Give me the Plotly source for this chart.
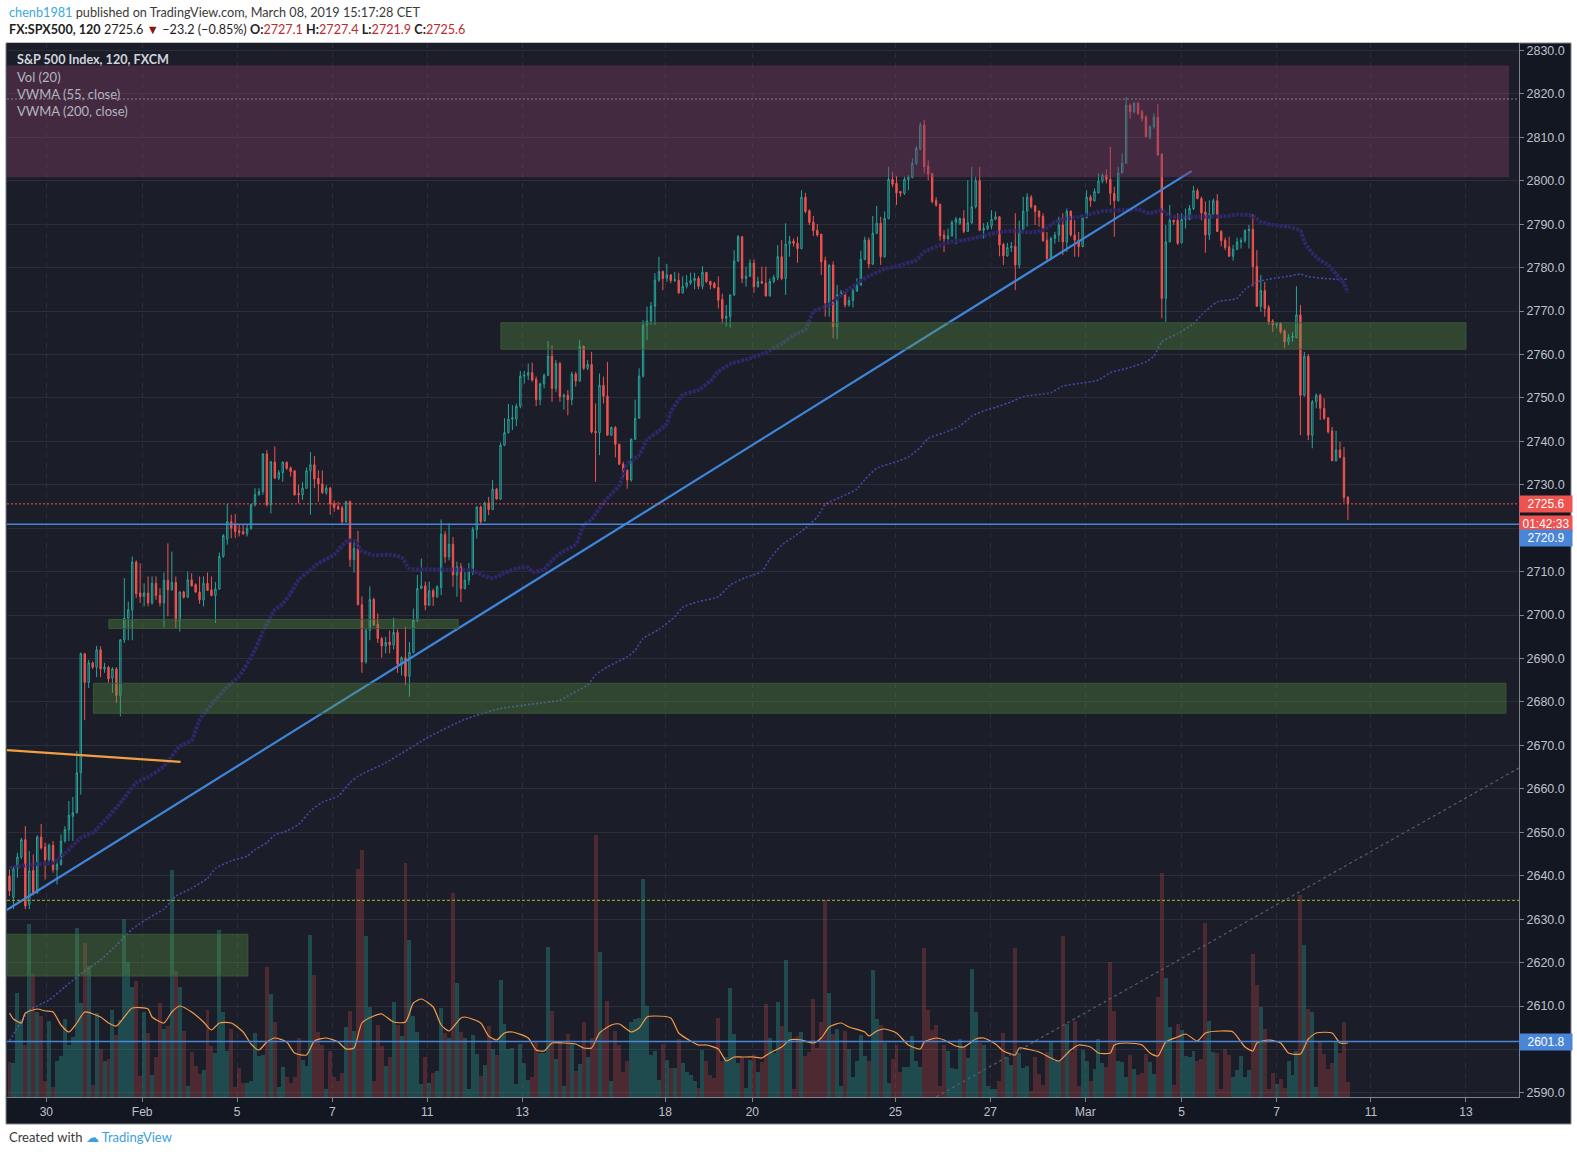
import plotly.graph_objects as go

# FX:SPX500 (FXCM), 2h bars, Jan 29 - Mar 8 2019, values
opens = [
    2639.9, 2635.0, 2641.6, 2644.3, 2648.3, 2633.4, 2641.2, 2636.1, 2648.9, 2646.6,
    2643.7, 2647.0, 2641.4, 2642.6, 2648.0, 2650.6, 2653.7, 2654.5, 2663.7, 2691.1,
    2684.5, 2689.0, 2688.0, 2692.0, 2687.6, 2688.0, 2685.5, 2687.6, 2681.5, 2694.3,
    2699.3, 2701.2, 2712.2, 2705.1, 2704.3, 2705.1, 2702.8, 2707.3, 2704.5, 2702.8,
    2708.0, 2705.8, 2707.5, 2698.8, 2705.3, 2704.1, 2708.1, 2707.0, 2705.3, 2703.5,
    2707.3, 2705.8, 2704.5, 2706.0, 2713.5, 2717.5, 2721.5, 2720.9, 2719.4, 2719.2,
    2718.7, 2720.0, 2725.4, 2727.7, 2728.4, 2737.1, 2725.4, 2735.2, 2731.5, 2732.8,
    2735.2, 2733.9, 2733.2, 2728.0, 2727.7, 2729.2, 2733.2, 2734.6, 2731.5, 2730.2,
    2728.2, 2729.2, 2725.6, 2725.0, 2724.7, 2721.5, 2726.1, 2712.8, 2715.3, 2702.4,
    2689.2, 2696.5, 2703.6, 2697.9, 2694.6, 2692.9, 2693.8, 2693.1, 2696.0, 2688.7,
    2690.2, 2685.9, 2691.4, 2698.8, 2706.1, 2706.7, 2702.3, 2705.6, 2704.2, 2706.3,
    2718.6, 2713.4, 2716.3, 2709.2, 2711.1, 2706.1, 2708.0, 2710.0, 2719.7, 2724.9,
    2721.7, 2725.8, 2724.3, 2729.0, 2726.7, 2739.1, 2742.0, 2745.1, 2745.1, 2748.1,
    2755.0, 2755.2, 2755.8, 2754.3, 2749.6, 2753.2, 2755.2, 2759.6, 2752.2, 2757.9,
    2750.3, 2750.6, 2749.6, 2755.5, 2753.9, 2761.8, 2756.8, 2757.7, 2742.3, 2742.0,
    2752.9, 2750.4, 2741.4, 2743.2, 2739.3, 2734.7, 2733.4, 2731.1, 2740.5, 2745.3,
    2755.0, 2766.8, 2767.7, 2771.1, 2777.1, 2779.1, 2777.5, 2778.3, 2777.0, 2777.1,
    2774.2, 2775.7, 2776.5, 2777.0, 2777.5, 2775.7, 2778.9, 2776.8, 2776.4, 2775.4,
    2772.7, 2768.3, 2768.7, 2773.7, 2781.5, 2787.1, 2777.5, 2778.0, 2781.0, 2775.6,
    2776.8, 2776.4, 2773.5, 2776.8, 2777.7, 2782.5, 2777.5, 2785.4, 2786.1, 2785.6,
    2784.4, 2796.2, 2793.1, 2790.5, 2788.6, 2787.7, 2781.6, 2771.9, 2780.6, 2766.4,
    2773.7, 2774.2, 2771.4, 2772.4, 2774.6, 2776.0, 2781.9, 2786.3, 2780.8, 2787.9,
    2790.2, 2782.5, 2791.3, 2800.3, 2799.4, 2797.5, 2797.1, 2800.3, 2800.8, 2804.0,
    2807.4, 2812.8, 2803.4, 2801.7, 2795.4, 2794.6, 2787.5, 2786.7, 2787.3, 2790.4,
    2790.2, 2791.3, 2788.3, 2790.3, 2794.0, 2800.0, 2788.6, 2789.0, 2789.6, 2791.1,
    2791.7, 2785.3, 2782.7, 2784.6, 2784.9, 2780.6, 2788.8, 2793.0, 2796.2, 2794.2,
    2793.0, 2791.8, 2786.3, 2782.1, 2786.7, 2787.5, 2789.8, 2785.9, 2793.0, 2787.5,
    2786.3, 2784.8, 2791.5, 2796.2, 2795.4, 2797.2, 2799.9, 2801.3, 2800.3, 2797.1,
    2795.4, 2801.8, 2804.0, 2817.4, 2815.9, 2817.8, 2815.9, 2814.6, 2810.1, 2812.4,
    2814.6, 2806.1, 2772.9, 2785.9, 2790.9, 2790.9, 2785.7, 2791.1, 2791.1, 2793.6,
    2797.7, 2795.9, 2792.8, 2787.5, 2792.3, 2795.4, 2788.3, 2786.3, 2784.8, 2782.6,
    2784.2, 2785.9, 2786.2, 2788.5, 2788.8, 2780.3, 2771.1, 2774.7, 2770.8, 2767.7,
    2766.8, 2767.1, 2765.4, 2762.9, 2763.9, 2763.9, 2769.1, 2750.6, 2759.6, 2741.4,
    2749.1, 2750.6, 2747.6, 2745.4, 2742.4, 2735.5, 2738.0, 2736.3, 2727.1,
]
highs = [
    2641.4, 2642.0, 2645.3, 2648.7, 2651.4, 2645.7, 2644.9, 2649.3, 2651.9, 2647.6,
    2647.4, 2648.0, 2643.8, 2649.5, 2651.4, 2657.2, 2658.1, 2668.7, 2691.4, 2691.3,
    2689.7, 2689.3, 2692.9, 2692.8, 2689.0, 2688.3, 2688.0, 2688.0, 2694.5, 2708.5,
    2703.1, 2713.5, 2712.6, 2711.9, 2707.3, 2708.9, 2708.9, 2708.9, 2706.2, 2709.8,
    2716.5, 2714.6, 2708.9, 2705.5, 2705.6, 2710.0, 2709.6, 2707.3, 2708.9, 2708.9,
    2709.8, 2708.9, 2707.6, 2714.4, 2718.6, 2725.6, 2723.1, 2723.3, 2720.8, 2720.8,
    2720.8, 2725.6, 2729.2, 2729.2, 2737.3, 2738.0, 2735.5, 2738.8, 2733.4, 2735.4,
    2735.3, 2734.2, 2733.4, 2730.0, 2730.6, 2734.0, 2737.5, 2736.6, 2733.3, 2733.3,
    2729.9, 2729.5, 2726.4, 2726.1, 2725.2, 2726.3, 2726.4, 2717.2, 2719.4, 2704.3,
    2697.0, 2706.6, 2704.0, 2700.4, 2695.0, 2695.0, 2696.4, 2699.4, 2696.7, 2690.5,
    2697.3, 2693.8, 2701.5, 2709.2, 2713.0, 2707.7, 2707.7, 2706.1, 2706.9, 2722.0,
    2719.4, 2721.1, 2718.0, 2712.3, 2712.0, 2709.9, 2712.0, 2720.3, 2725.0, 2725.2,
    2726.1, 2727.2, 2731.1, 2729.3, 2739.7, 2745.3, 2748.6, 2748.3, 2748.7, 2756.2,
    2756.2, 2757.9, 2758.1, 2754.9, 2753.5, 2755.6, 2763.1, 2762.1, 2758.7, 2758.3,
    2751.0, 2751.8, 2756.0, 2756.0, 2763.3, 2762.1, 2758.7, 2760.6, 2748.7, 2755.6,
    2754.9, 2758.3, 2743.4, 2743.5, 2739.5, 2735.3, 2733.5, 2740.6, 2749.6, 2756.8,
    2767.9, 2771.0, 2772.1, 2778.7, 2782.5, 2779.3, 2780.8, 2778.5, 2779.0, 2778.8,
    2778.0, 2778.3, 2778.8, 2778.8, 2778.0, 2780.3, 2779.0, 2777.0, 2776.7, 2778.0,
    2774.0, 2771.4, 2773.8, 2784.0, 2787.5, 2787.3, 2780.2, 2781.9, 2781.9, 2777.9,
    2780.2, 2780.2, 2777.5, 2778.3, 2785.2, 2786.3, 2790.2, 2787.3, 2786.7, 2787.1,
    2797.8, 2797.2, 2793.4, 2791.9, 2790.0, 2787.7, 2782.5, 2780.7, 2781.4, 2776.0,
    2774.8, 2774.3, 2773.3, 2775.2, 2777.5, 2783.9, 2787.1, 2786.9, 2791.9, 2794.2,
    2791.7, 2792.9, 2803.2, 2802.1, 2801.1, 2797.6, 2800.9, 2801.3, 2805.1, 2808.0,
    2813.4, 2814.0, 2804.7, 2801.7, 2796.2, 2794.6, 2788.6, 2789.0, 2790.9, 2791.7,
    2791.5, 2793.2, 2800.1, 2803.2, 2800.9, 2803.2, 2790.2, 2790.5, 2793.2, 2792.9,
    2791.8, 2785.7, 2785.7, 2785.9, 2792.5, 2790.8, 2796.3, 2797.1, 2796.7, 2794.4,
    2793.2, 2792.5, 2788.2, 2787.1, 2788.2, 2791.7, 2792.5, 2793.6, 2793.1, 2790.9,
    2788.2, 2792.1, 2797.8, 2796.7, 2798.2, 2801.7, 2801.7, 2802.6, 2807.8, 2798.6,
    2803.2, 2806.3, 2819.3, 2817.8, 2818.2, 2818.2, 2816.3, 2815.1, 2812.8, 2815.5,
    2817.6, 2806.3, 2789.8, 2794.4, 2791.0, 2792.5, 2792.5, 2793.6, 2794.4, 2798.8,
    2798.2, 2796.3, 2795.2, 2795.5, 2795.9, 2796.9, 2788.6, 2786.9, 2787.1, 2785.2,
    2786.9, 2786.9, 2788.8, 2789.8, 2792.3, 2784.0, 2778.3, 2776.7, 2771.4, 2768.1,
    2767.5, 2767.5, 2765.8, 2764.7, 2765.2, 2775.7, 2771.4, 2760.6, 2760.1, 2749.5,
    2751.0, 2751.0, 2749.9, 2745.6, 2743.3, 2742.4, 2739.9, 2738.7, 2727.4,
]
lows = [
    2635.3, 2632.3, 2639.5, 2643.8, 2632.3, 2632.3, 2635.5, 2635.8, 2646.0, 2639.1,
    2643.2, 2640.7, 2638.0, 2642.3, 2647.6, 2648.0, 2648.0, 2654.3, 2658.7, 2675.8,
    2683.2, 2687.6, 2685.7, 2685.7, 2686.7, 2684.4, 2682.1, 2679.8, 2676.7, 2693.6,
    2694.2, 2694.2, 2703.9, 2702.8, 2702.0, 2702.0, 2702.4, 2703.5, 2702.0, 2697.2,
    2699.7, 2705.6, 2697.0, 2696.2, 2703.8, 2704.0, 2706.6, 2705.1, 2702.6, 2702.0,
    2705.6, 2704.3, 2698.2, 2705.8, 2713.2, 2716.2, 2717.7, 2717.7, 2718.1, 2718.5,
    2718.1, 2719.6, 2725.0, 2727.5, 2727.7, 2725.0, 2723.4, 2731.3, 2731.1, 2730.7,
    2733.4, 2731.9, 2727.5, 2725.7, 2726.5, 2729.0, 2723.1, 2729.2, 2726.1, 2727.9,
    2727.7, 2723.1, 2723.8, 2724.2, 2720.9, 2721.2, 2711.1, 2709.8, 2702.2, 2686.7,
    2688.8, 2694.2, 2697.5, 2693.6, 2690.2, 2691.2, 2691.2, 2692.1, 2686.7, 2686.1,
    2683.9, 2681.2, 2691.2, 2698.4, 2706.0, 2701.1, 2702.2, 2702.1, 2704.0, 2704.6,
    2712.0, 2712.6, 2706.5, 2704.2, 2703.0, 2705.9, 2706.9, 2709.2, 2717.6, 2721.0,
    2721.5, 2723.0, 2724.2, 2726.6, 2726.5, 2738.9, 2741.8, 2742.6, 2743.5, 2747.6,
    2753.3, 2754.1, 2753.7, 2748.1, 2748.3, 2752.2, 2755.0, 2749.1, 2751.4, 2749.1,
    2747.3, 2746.0, 2748.3, 2752.6, 2753.7, 2756.4, 2756.4, 2741.8, 2730.7, 2736.8,
    2748.7, 2741.3, 2741.3, 2736.3, 2734.6, 2731.8, 2729.1, 2730.7, 2740.3, 2745.3,
    2754.7, 2763.3, 2766.8, 2766.8, 2776.7, 2774.8, 2776.7, 2776.4, 2776.7, 2773.9,
    2774.0, 2775.2, 2776.0, 2775.0, 2775.0, 2775.0, 2776.4, 2775.0, 2775.2, 2770.6,
    2767.1, 2766.4, 2766.2, 2773.5, 2781.3, 2776.4, 2775.6, 2777.9, 2774.2, 2775.4,
    2776.2, 2773.3, 2773.3, 2776.4, 2777.1, 2777.1, 2773.7, 2782.5, 2784.8, 2781.1,
    2784.2, 2792.5, 2789.8, 2787.3, 2787.1, 2778.3, 2768.7, 2768.7, 2763.7, 2763.5,
    2773.3, 2770.8, 2771.0, 2770.8, 2774.4, 2775.8, 2781.7, 2779.8, 2780.6, 2787.7,
    2780.6, 2782.3, 2791.1, 2798.5, 2794.4, 2796.3, 2796.7, 2797.8, 2800.5, 2803.6,
    2807.0, 2801.7, 2800.1, 2794.8, 2794.0, 2786.2, 2783.6, 2786.2, 2787.1, 2785.4,
    2789.8, 2787.9, 2788.3, 2790.1, 2793.6, 2788.4, 2786.7, 2788.6, 2788.8, 2790.9,
    2782.6, 2780.6, 2782.5, 2783.6, 2774.8, 2779.8, 2788.6, 2789.4, 2793.6, 2789.8,
    2789.4, 2785.9, 2781.3, 2781.7, 2785.5, 2785.9, 2782.9, 2783.6, 2787.1, 2782.5,
    2782.5, 2784.7, 2791.3, 2794.0, 2795.2, 2797.1, 2799.4, 2799.4, 2794.4, 2787.1,
    2795.2, 2801.7, 2804.0, 2814.3, 2815.5, 2815.1, 2813.6, 2810.0, 2809.5, 2812.0,
    2805.7, 2768.3, 2767.5, 2785.9, 2789.8, 2785.2, 2785.5, 2789.0, 2790.9, 2793.2,
    2795.7, 2790.9, 2783.4, 2786.3, 2791.7, 2788.2, 2784.9, 2784.0, 2782.5, 2781.6,
    2784.0, 2784.4, 2785.7, 2784.4, 2775.6, 2771.0, 2769.8, 2768.7, 2766.8, 2765.2,
    2766.0, 2764.8, 2761.4, 2762.2, 2762.9, 2763.7, 2741.4, 2750.3, 2740.3, 2738.4,
    2747.6, 2744.9, 2744.9, 2741.8, 2735.5, 2735.4, 2736.1, 2725.9, 2721.9,
]
closes = [
    2636.5, 2641.6, 2644.3, 2648.3, 2633.0, 2641.1, 2636.1, 2648.9, 2646.4, 2643.7,
    2647.0, 2641.4, 2642.6, 2648.0, 2650.6, 2653.9, 2654.5, 2663.7, 2691.1, 2684.5,
    2689.0, 2688.0, 2692.0, 2687.6, 2688.0, 2685.3, 2687.6, 2681.5, 2694.3, 2699.3,
    2701.2, 2712.2, 2704.9, 2704.3, 2705.1, 2702.8, 2707.3, 2704.5, 2702.8, 2708.0,
    2705.8, 2707.5, 2698.8, 2705.3, 2704.1, 2708.1, 2706.7, 2705.3, 2703.5, 2707.3,
    2705.7, 2704.5, 2706.0, 2713.5, 2718.3, 2721.5, 2720.0, 2719.2, 2719.0, 2718.7,
    2720.0, 2725.4, 2727.7, 2728.4, 2737.1, 2725.4, 2735.3, 2731.5, 2732.8, 2735.2,
    2733.8, 2733.0, 2727.7, 2727.7, 2729.2, 2733.2, 2734.6, 2731.3, 2730.2, 2728.2,
    2729.2, 2725.6, 2724.8, 2724.4, 2721.5, 2726.1, 2712.8, 2715.3, 2702.4, 2689.2,
    2696.5, 2703.6, 2697.7, 2694.6, 2692.9, 2693.7, 2693.1, 2696.0, 2688.7, 2690.2,
    2685.9, 2691.4, 2698.8, 2706.1, 2706.7, 2702.3, 2705.6, 2704.2, 2706.5, 2718.6,
    2713.4, 2716.3, 2709.2, 2711.1, 2706.1, 2708.0, 2710.0, 2719.7, 2724.9, 2721.5,
    2725.8, 2724.3, 2729.0, 2726.7, 2739.1, 2742.0, 2745.1, 2745.4, 2748.1, 2755.0,
    2755.2, 2755.8, 2754.1, 2749.6, 2753.2, 2755.2, 2759.6, 2752.2, 2757.9, 2750.3,
    2750.6, 2749.6, 2755.5, 2753.9, 2761.8, 2756.8, 2757.7, 2742.2, 2742.0, 2752.9,
    2750.4, 2741.4, 2743.2, 2739.3, 2734.7, 2733.2, 2731.1, 2740.5, 2745.3, 2755.0,
    2766.7, 2767.7, 2771.1, 2777.1, 2779.1, 2777.5, 2778.3, 2777.0, 2777.2, 2774.2,
    2775.7, 2776.5, 2777.0, 2777.5, 2775.7, 2778.9, 2776.8, 2776.0, 2775.4, 2772.5,
    2768.3, 2768.8, 2773.7, 2781.5, 2787.1, 2777.5, 2778.0, 2781.0, 2775.6, 2776.8,
    2776.4, 2773.5, 2776.8, 2777.7, 2782.5, 2777.5, 2785.4, 2786.1, 2785.6, 2784.4,
    2796.2, 2792.9, 2790.4, 2788.5, 2787.5, 2781.3, 2771.9, 2780.6, 2766.4, 2773.7,
    2774.2, 2771.4, 2772.4, 2774.6, 2776.0, 2781.9, 2786.3, 2780.8, 2787.9, 2790.2,
    2782.5, 2791.3, 2800.3, 2799.2, 2797.2, 2797.1, 2800.3, 2800.8, 2804.0, 2807.4,
    2812.8, 2803.2, 2801.5, 2795.2, 2794.4, 2787.3, 2786.7, 2787.3, 2790.4, 2791.1,
    2791.3, 2788.3, 2790.3, 2794.0, 2800.0, 2788.6, 2789.0, 2789.6, 2791.1, 2791.7,
    2785.2, 2782.7, 2784.6, 2784.9, 2780.6, 2788.8, 2793.0, 2796.2, 2794.0, 2792.9,
    2791.7, 2786.2, 2782.1, 2786.7, 2787.5, 2789.8, 2785.9, 2793.0, 2787.5, 2786.3,
    2784.8, 2791.5, 2796.2, 2795.4, 2797.5, 2799.9, 2801.3, 2800.3, 2797.1, 2795.4,
    2801.8, 2804.0, 2817.4, 2815.9, 2817.8, 2815.5, 2814.3, 2810.1, 2812.4, 2814.6,
    2805.9, 2772.9, 2785.9, 2790.9, 2790.5, 2785.6, 2791.1, 2791.7, 2793.6, 2797.7,
    2795.9, 2792.6, 2787.5, 2792.3, 2795.4, 2788.3, 2786.2, 2784.6, 2782.6, 2784.2,
    2785.9, 2786.2, 2788.5, 2788.8, 2780.2, 2771.1, 2774.7, 2770.6, 2767.5, 2766.8,
    2767.1, 2765.2, 2762.9, 2763.9, 2764.2, 2769.1, 2750.6, 2759.6, 2741.4, 2749.1,
    2750.6, 2747.6, 2745.3, 2742.2, 2735.5, 2738.0, 2736.3, 2727.1, 2725.6,
]
volumes = [
    35, 34, 104, 77, 52, 173, 123, 85, 81, 16,
    76, 10, 36, 41, 78, 52, 60, 169, 94, 154,
    131, 12, 84, 48, 36, 38, 87, 62, 77, 178,
    135, 110, 116, 21, 85, 64, 22, 40, 94, 68,
    71, 227, 126, 110, 66, 11, 45, 31, 23, 27,
    87, 51, 44, 167, 85, 46, 68, 10, 29, 14,
    14, 16, 64, 41, 42, 130, 103, 75, 10, 30,
    20, 14, 20, 59, 37, 31, 162, 122, 65, 52,
    8, 46, 20, 16, 24, 70, 86, 66, 228, 247,
    161, 90, 16, 72, 51, 31, 40, 95, 72, 61,
    234, 157, 81, 65, 13, 40, 14, 24, 26, 89,
    64, 59, 204, 114, 65, 59, 8, 62, 43, 21,
    32, 71, 48, 42, 117, 73, 48, 49, 13, 53,
    34, 17, 20, 55, 44, 44, 150, 86, 38, 56,
    11, 63, 53, 26, 33, 75, 40, 59, 262, 145,
    66, 96, 16, 66, 52, 25, 36, 75, 78, 79,
    218, 91, 42, 46, 17, 53, 37, 29, 29, 58,
    34, 25, 22, 16, 9, 47, 36, 22, 19, 79,
    36, 40, 109, 63, 34, 40, 9, 37, 42, 25,
    35, 93, 59, 44, 95, 71, 137, 65, 8, 61,
    65, 41, 45, 98, 49, 75, 197, 104, 63, 68,
    11, 66, 48, 20, 36, 62, 41, 36, 127, 78,
    72, 54, 14, 38, 52, 25, 30, 30, 61, 36,
    30, 149, 87, 67, 72, 11, 52, 46, 29, 28,
    58, 50, 39, 128, 85, 54, 52, 11, 8, 8,
    16, 64, 40, 32, 149, 44, 29, 31, 6, 40,
    23, 12, 45, 55, 36, 36, 161, 73, 45, 76,
    11, 47, 36, 16, 28, 58, 34, 30, 135, 86,
    36, 35, 20, 42, 28, 22, 24, 43, 35, 23,
    100, 224, 119, 70, 12, 73, 67, 41, 40, 46,
    36, 38, 174, 76, 45, 44, 8, 48, 42, 20,
    27, 41, 20, 27, 143, 112, 90, 68, 8, 24,
    13, 18, 9, 36, 22, 46, 202, 152, 88, 85,
    10, 55, 43, 28, 34, 56, 44, 75, 15,
]

# Vol (20) moving average, sampled along the bars
vol_ma_bars = [
    0, 1, 3, 4, 7, 9, 11, 13, 15, 17, 19, 23, 25, 27, 29, 31, 35, 36, 39, 41,
    43, 46, 49, 51, 53, 56, 59, 61, 63, 65, 67, 70, 72, 75, 77, 80, 83, 85, 87, 89,
    92, 94, 97, 100, 102, 104, 107, 109, 111, 114, 115, 119, 121, 123, 125, 127, 131, 133, 135, 137,
    140, 143, 145, 147, 149, 152, 154, 157, 159, 161, 163, 167, 169, 172, 174, 176, 179, 181, 183, 185,
    188, 190, 192, 195, 197, 200, 203, 205, 207, 210, 212, 216, 217, 219, 221, 224, 227, 230, 231, 234,
    236, 239, 241, 244, 246, 249, 251, 254, 255, 258, 260, 263, 265, 268, 270, 273, 275, 278, 279, 282,
    286, 288, 290, 292, 295, 297, 300, 302, 306, 309, 312, 314, 315, 318, 321, 323, 326, 328, 330, 334,
    336, 338,
]
vol_ma = [
    84, 78, 74, 84, 88, 86, 85, 72, 65, 74, 85, 80, 74, 71, 80, 89, 88, 80, 74, 85,
    91, 85, 75, 67, 74, 74, 65, 53, 47, 55, 59, 55, 44, 42, 56, 59, 55, 48, 49, 74,
    81, 83, 75, 75, 94, 98, 90, 72, 66, 79, 80, 74, 61, 57, 64, 65, 59, 47, 46, 54,
    54, 53, 49, 49, 64, 72, 73, 65, 69, 80, 81, 79, 64, 56, 52, 52, 48, 36, 40, 40,
    40, 39, 44, 50, 57, 57, 54, 59, 70, 74, 70, 65, 61, 66, 68, 64, 52, 48, 55, 59,
    57, 51, 50, 58, 59, 53, 46, 42, 49, 47, 45, 39, 36, 47, 52, 50, 44, 44, 52, 54,
    52, 44, 41, 55, 60, 63, 56, 64, 66, 65, 50, 46, 54, 57, 54, 44, 43, 58, 64, 64,
    54, 54,
]

vwma55_bars = [
    0, 6, 11, 14, 18, 21, 25, 29, 32, 35, 39, 43, 46, 48, 52, 56, 58, 62, 64, 67,
    69, 71, 73, 76, 78, 82, 85, 87, 89, 92, 96, 99, 101, 105, 109, 113, 117, 120, 122, 125,
    128, 131, 132, 135, 137, 139, 143, 145, 147, 150, 152, 154, 156, 159, 161, 164, 166, 167, 170, 174,
    177, 179, 182, 187, 191, 195, 198, 201, 203, 207, 211, 216, 221, 224, 229, 231, 234, 238, 241, 245,
    249, 253, 258, 261, 264, 266, 270, 273, 276, 281, 285, 288, 291, 293, 296, 301, 307, 310, 314, 316,
    319, 323, 326, 327, 329, 331, 333, 335, 337, 338,
]
vwma55 = [
    2641.8, 2642.6, 2643.0, 2645.1, 2648.7, 2649.9, 2653.6, 2657.9, 2661.4, 2662.7,
    2665.2, 2669.8, 2671.2, 2675.9, 2680.5, 2684.4, 2685.9, 2692.0, 2696.2, 2701.2,
    2702.6, 2705.0, 2708.1, 2710.4, 2711.9, 2713.9, 2716.9, 2717.2, 2714.7, 2713.8,
    2713.9, 2713.3, 2710.7, 2710.5, 2710.5, 2710.5, 2710.2, 2709.0, 2708.5, 2709.7,
    2710.7, 2711.0, 2709.9, 2710.5, 2712.6, 2714.2, 2716.3, 2720.7, 2722.0, 2725.9,
    2727.9, 2729.8, 2734.8, 2736.8, 2740.3, 2742.4, 2744.1, 2746.7, 2750.7, 2751.8,
    2753.9, 2756.0, 2757.8, 2759.1, 2760.4, 2762.5, 2764.4, 2765.8, 2769.8, 2771.4,
    2774.4, 2777.5, 2779.7, 2780.3, 2781.7, 2783.6, 2784.8, 2786.0, 2786.3, 2787.1,
    2788.0, 2788.5, 2788.1, 2788.6, 2790.5, 2791.1, 2791.7, 2792.3, 2793.0, 2793.2,
    2793.4, 2792.5, 2793.2, 2791.8, 2791.7, 2791.7, 2791.8, 2792.2, 2791.9, 2790.5,
    2789.8, 2789.4, 2788.5, 2785.9, 2783.3, 2781.7, 2780.6, 2778.5, 2776.3, 2774.2,
]

vwma200_bars = [
    0, 5, 10, 14, 18, 23, 27, 31, 35, 39, 42, 46, 50, 52, 56, 60, 62, 65, 67, 70,
    73, 76, 79, 83, 86, 88, 95, 106, 115, 124, 132, 139, 142, 146, 148, 151, 153, 156, 158, 160,
    164, 168, 170, 174, 179, 182, 186, 190, 192, 195, 198, 201, 204, 206, 210, 214, 216, 219, 224, 227,
    230, 232, 236, 240, 243, 246, 249, 253, 256, 263, 266, 270, 275, 278, 283, 287, 289, 291, 295, 299,
    301, 305, 310, 312, 315, 318, 323, 326, 328, 332, 335, 338,
]
vwma200 = [
    2602.0, 2609.0, 2611.4, 2614.4, 2617.4, 2620.6, 2624.0, 2627.7, 2630.2, 2632.3,
    2635.3, 2637.1, 2639.4, 2641.7, 2643.4, 2644.5, 2646.0, 2647.6, 2649.4, 2650.3,
    2651.8, 2654.9, 2656.9, 2658.3, 2661.4, 2662.9, 2666.0, 2672.0, 2676.0, 2678.5,
    2679.5, 2680.4, 2681.9, 2683.9, 2686.2, 2688.1, 2689.0, 2690.4, 2691.9, 2694.6,
    2696.7, 2699.6, 2701.8, 2703.1, 2704.2, 2706.9, 2708.7, 2710.0, 2712.9, 2716.1,
    2718.0, 2720.0, 2722.6, 2725.5, 2727.2, 2729.0, 2731.2, 2733.8, 2735.3, 2736.4,
    2738.6, 2740.7, 2742.0, 2743.5, 2745.8, 2747.0, 2747.8, 2749.1, 2750.3, 2751.2,
    2752.7, 2753.3, 2754.1, 2755.8, 2757.0, 2758.3, 2759.6, 2762.9, 2764.8, 2767.1,
    2769.1, 2772.1, 2772.9, 2775.0, 2776.7, 2777.3, 2778.0, 2778.5, 2777.9, 2777.5,
    2777.3, 2777.3,
]

# session starts (bar units) and their date labels
day_ticks = [9.3, 33.5, 57.5, 81.5, 105.5, 129.5, 165.6, 187.6, 223.7, 247.7, 271.7, 296.0, 320.0, 343.8, 367.8]
day_labels = ["30", "Feb", "5", "7", "11", "13", "18", "20", "25", "27", "Mar", "5", "7", "11", "13"]

# price scale
price_ticks = [2590 + 10 * k for k in range(25)]
hidden_ticks = [2600, 2720]  # sit under the price labels

# user drawings, in (bar, price)
resist_zone = (-0.63, 378.7, 2800.8, 2826.5)
support_zones = [
    (124.1, 367.8, 2761.2, 2767.3),
    (25.1, 113.3, 2696.9, 2699.0),
    (21.2, 377.9, 2677.4, 2684.3),
    (-0.63, 60.2, 2616.9, 2626.5),
]
uptrend = (-0.7, 2632.1, 298.5, 2802.2)
orange_seg = (-0.63, 2668.9, 43.2, 2666.2)
grey_ray = (234.1, 2589.1, 381.2, 2664.8)
olive_level = 2634.3
grey_level = 2818.8
blue_levels = [2720.9, 2601.8]
last_price = closes[-1]

# ---- styling -------------------------------------------------------------
UP, DOWN = "#26A69A", "#EF5350"
BLUE = "#4A86D8"
GRID = "#2A2E3A"
AXIS = "#80838C"
TICK = "#BFC2CA"
BG = "#1B1D29"
PANEL = "#131722"
FONT = "Liberation Sans"

W, H = 1577, 1161
L, R, T, B = 7, 1519, 43, 1097


def px(x):
    return (x - L) / (R - L)


def py(y):
    return (B - y) / (B - T)


bars = list(range(len(closes)))
vol_colors = ["rgba(38,166,154,0.33)" if c >= o else "rgba(239,83,80,0.24)" for o, c in zip(opens, closes)]

fig = go.Figure()
fig.add_trace(go.Bar(x=bars, y=volumes, yaxis="y2", marker=dict(color=vol_colors, line=dict(width=0)),
                     hoverinfo="skip", showlegend=False))
fig.add_trace(go.Scatter(x=vol_ma_bars, y=vol_ma, yaxis="y2", mode="lines",
                         line=dict(color="#F49B4B", width=1.2, shape="spline", smoothing=0.6),
                         hoverinfo="skip", showlegend=False))
fig.add_trace(go.Scatter(x=vwma200_bars, y=vwma200, mode="lines",
                         line=dict(color="#3F4CA6", width=1.6, dash="2px,2px", shape="spline", smoothing=0.5),
                         hoverinfo="skip", showlegend=False))
fig.add_trace(go.Scatter(x=vwma55_bars, y=vwma55, mode="lines",
                         line=dict(color="#2F2768", width=4, dash="3px,1.2px", shape="spline", smoothing=0.5),
                         hoverinfo="skip", showlegend=False))
fig.add_trace(go.Candlestick(
    x=bars, open=opens, high=highs, low=lows, close=closes,
    increasing=dict(line=dict(color=UP, width=1), fillcolor="rgba(0,0,0,0)"),
    decreasing=dict(line=dict(color=DOWN, width=1), fillcolor=DOWN),
    whiskerwidth=0, hoverinfo="skip", showlegend=False))

shapes = [
    # dark panel incl. axes, then chart area
    dict(type="rect", xref="paper", yref="paper", x0=px(6), x1=px(1571), y0=py(1124), y1=py(43),
         fillcolor=PANEL, line=dict(color=AXIS, width=1), layer="below"),
    dict(type="rect", xref="paper", yref="paper", x0=0, x1=1, y0=0, y1=1,
         fillcolor=BG, line=dict(width=0), layer="below"),
]
for x0, y0, x1, y1, col, w, dash in [
    (*uptrend, "#3F86DA", 2.2, "solid"),
    (*orange_seg, "#F0A040", 2.2, "solid"),
    (*grey_ray, "#5A5D68", 1.2, "dot"),
]:
    shapes.append(dict(type="line", xref="x", yref="y", x0=x0, y0=y0, x1=x1, y1=y1,
                       line=dict(color=col, width=w, dash=dash)))

x0, x1, lo, hi = resist_zone
shapes.append(dict(type="rect", xref="x", yref="y", x0=x0, x1=x1, y0=lo, y1=hi,
                   fillcolor="rgba(120,60,95,0.45)", line=dict(width=0)))
for x0, x1, lo, hi in support_zones:
    shapes.append(dict(type="rect", xref="x", yref="y", x0=x0, x1=x1, y0=lo, y1=hi,
                       fillcolor="rgba(90,150,65,0.35)", line=dict(color="rgba(60,90,55,0.9)", width=1)))

for level, col, w, dash in [
    (olive_level, "#8C9A26", 1.2, "3px,2px"),
    (grey_level, "#8E7F8C", 1, "2px,2px"),
    (last_price, DOWN, 1, "2px,2px"),
    (blue_levels[0], BLUE, 1.5, "solid"),
    (blue_levels[1], BLUE, 1.5, "solid"),
]:
    shapes.append(dict(type="line", xref="paper", yref="y", x0=0, x1=1, y0=level, y1=level,
                       line=dict(color=col, width=w, dash=dash)))

annotations = []


def note(x, y, text, size=13, color="#D1D4DC", family="Lato"):
    annotations.append(dict(xref="paper", yref="paper", x=px(x), y=py(y), xanchor="left", yanchor="middle",
                            text=text, showarrow=False, font=dict(family=family, size=size, color=color)))


note(7, 12, "<span style='color:#3BA8DE'>chenb1981</span> published on TradingView.com, "
            "March 08, 2019 15:17:28 CET", size=12.7, color="#3A3A3A")
note(7, 29, "<b>FX:SPX500, 120</b> 2725.6 <span style='color:#8B1414'>▼</span> −23.2 (−0.85%) "
            "<b>O:</b><span style='color:#C0282D'>2727.1</span> <b>H:</b><span style='color:#C0282D'>2727.4</span> "
            "<b>L:</b><span style='color:#C0282D'>2721.9</span> <b>C:</b><span style='color:#C0282D'>2725.6</span>",
     size=12.6, color="#1E1E1E")
note(15, 60, "<b>S&P 500 Index, 120, FXCM</b>", size=12.6, color="#D1D4DC")
note(15, 77, "Vol (20)", color="#B2B5BE")
note(15, 94, "VWMA (55, close)", color="#B2B5BE")
note(15, 111, "VWMA (200, close)", color="#B2B5BE")
note(7, 1137, "Created with <span style='color:#3BA1DA'>☁ TradingView</span>", size=13, color="#3A3A3A")

# price labels on the right scale
for price, text, col, shift in [
    (last_price, "2725.6", DOWN, 0),
    (last_price, "01:42:33", DOWN, -20),
    (blue_levels[0], "2720.9", BLUE, -14),
    (blue_levels[1], "2601.8", BLUE, 0),
]:
    annotations.append(dict(xref="paper", yref="y", x=1, y=price, yshift=shift, xanchor="left", yanchor="middle",
                            text=text, showarrow=False, bgcolor=col, width=50, height=14, borderpad=1,
                            align="center", font=dict(family=FONT, size=12, color="white")))

fig.update_layout(
    width=W, height=H,
    margin=dict(l=L, r=W - R, t=T, b=H - B, autoexpand=False),
    paper_bgcolor="white", plot_bgcolor=BG,
    bargap=0, boxgap=0.5, hovermode=False,
    shapes=shapes, annotations=annotations,
    xaxis=dict(range=[-0.63, 381.2], tickmode="array", tickvals=day_ticks, ticktext=day_labels,
               showgrid=True, gridcolor=GRID, griddash="5px,5px", zeroline=False,
               showline=True, linecolor=AXIS, ticks="outside", ticklen=4, tickcolor=AXIS,
               tickfont=dict(family=FONT, size=12, color=TICK), rangeslider=dict(visible=False),
               fixedrange=True),
    yaxis=dict(side="right", range=[2589.05, 2831.7], tickmode="array", tickvals=price_ticks,
               ticktext=["" if p in hidden_ticks else f"{p:.1f}" for p in price_ticks],
               showgrid=True, gridcolor=GRID, zeroline=False, showline=True, linecolor=AXIS,
               ticks="outside", ticklen=4, tickcolor=AXIS,
               tickfont=dict(family=FONT, size=12.5, color=TICK), fixedrange=True),
    yaxis2=dict(overlaying="y", range=[0, B - T], visible=False, fixedrange=True),
)

# the page's default body margin would shift the chart by 8px
fig.write_html("out.html", config={"displayModeBar": False},
               post_script="document.body.style.margin='0';document.body.style.overflow='hidden';")
